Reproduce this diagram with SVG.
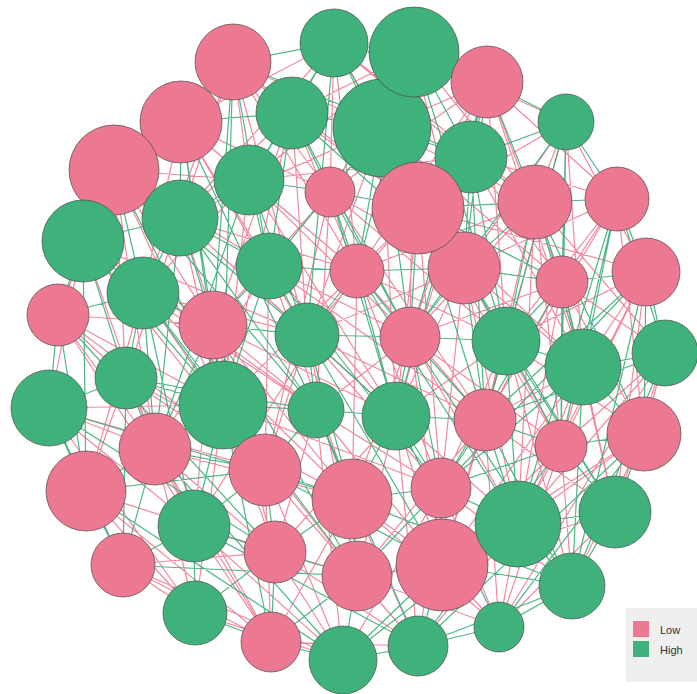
<svg xmlns="http://www.w3.org/2000/svg" width="697" height="694" viewBox="0 0 697 694">
<style>
.e{fill:none;stroke-width:1.2;stroke-opacity:0.9}
.ep{stroke:#EE7C96}
.eg{stroke:#3AAE79}
.n circle{stroke:#4a4a4a;stroke-width:0.7}
.p{fill:#EC7892}
.g{fill:#3FB17B}
.lt{font-family:"Liberation Sans",Arial,sans-serif;font-size:11px;fill:#333}
</style>
<rect width="697" height="694" fill="#fff"/>
<g id="edges">
<path class="e ep" d="M233 62L292 113M233 62L382 128M233 62L249 180M233 62L330 192M233 62L180 218M233 62L418 208M233 62L307 335M334 43L181 122M334 43L471 157M334 43L330 192M334 43L357 271M334 43L535 202M414 52L292 113M414 52L249 180M414 52L464 268M414 52L566 122M414 52L535 202M487 82L382 128M487 82L418 208M487 82L617 199M487 82L562 282M487 82L330 192M487 82L506 341M566 122L535 202M566 122L464 268M566 122L646 272M566 122L418 208M566 122L583 367M181 122L249 180M181 122L330 192M181 122L83 241M181 122L269 266M181 122L143 293M292 113L418 208M292 113L180 218M292 113L357 271M292 113L213 325M382 128L464 268M382 128L180 218M382 128L307 335M382 128L535 202M471 157L357 271M471 157L562 282M471 157L410 337M471 157L617 199M471 157L249 180M114 170L269 266M114 170L58 315M114 170L213 325M114 170L249 180M114 170L126 378M249 180L357 271M249 180L143 293M249 180L410 337M249 180L223 405M330 192L464 268M330 192L213 325M330 192L506 341M330 192L316 410M418 208L646 272M418 208L307 335M418 208L583 367M418 208L396 416M535 202L410 337M535 202L665 353M535 202L357 271M535 202L485 420M617 199L562 282M617 199L506 341M617 199L644 434M617 199L464 268M83 241L213 325M83 241L307 335M83 241L49 408M83 241L155 449M180 218L307 335M180 218L223 405M180 218L126 378M180 218L357 271M269 266L410 337M269 266L396 416M269 266L155 449M269 266L265 470M357 271L506 341M357 271L223 405M357 271L485 420M357 271L352 499M464 268L583 367M464 268L396 416M464 268L561 446M464 268L307 335M562 282L665 353M562 282L485 420M562 282L518 524M562 282L410 337M646 272L583 367M646 272L561 446M646 272L615 512M646 272L506 341M58 315L126 378M58 315L223 405M58 315L155 449M58 315L213 325M143 293L316 410M143 293L265 470M143 293L307 335M143 293L86 491M213 325L396 416M213 325L316 410M213 325L352 499M213 325L194 526M307 335L485 420M307 335L441 488M307 335L265 470M410 337L561 446M410 337L352 499M410 337L518 524M410 337L316 410M506 341L644 434M506 341L441 488M506 341L442 565M506 341L396 416M583 367L561 446M583 367L518 524M583 367L615 512M583 367L485 420M665 353L561 446M665 353L615 512M665 353L644 434M665 353L518 524M49 408L155 449M49 408L265 470M49 408L194 526M49 408L223 405M126 378L265 470M126 378L352 499M126 378L194 526M126 378L86 491M223 405L441 488M223 405L275 552M223 405L357 576M316 410L441 488M316 410L275 552M316 410L442 565M155 449L352 499M155 449L194 526M155 449L275 552M155 449L195 613M396 416L518 524M396 416L357 576M396 416L442 565M396 416L275 552M485 420L615 512M485 420L442 565M485 420L357 576M561 446L518 524M561 446L572 586M561 446L442 565M644 434L518 524M644 434L572 586M644 434L442 565M86 491L194 526M86 491L275 552M86 491L195 613M265 470L357 576M265 470L271 642M265 470L343 660M352 499L442 565M352 499L271 642M352 499L418 646M441 488L572 586M441 488L343 660M441 488L418 646M518 524L418 646M518 524L499 627M615 512L442 565M615 512L499 627M194 526L271 642M194 526L357 576M275 552L343 660M275 552L418 646M123 565L195 613M123 565L271 642M123 565L275 552M357 576L418 646M357 576L499 627M442 565L499 627M195 613L343 660M271 642L418 646M233 62L357 271M233 62L143 293M334 43L180 218M334 43L464 268M414 52L410 337M487 82L357 271M487 82L583 367M566 122L485 420M181 122L307 335M181 122L357 271M292 113L307 335M292 113L223 405M382 128L562 282M382 128L396 416M471 157L583 367M471 157L396 416M114 170L223 405M114 170L155 449M249 180L396 416M330 192L485 420M330 192L265 470M418 208L561 446M418 208L441 488M535 202L561 446M535 202L518 524M617 199L485 420M83 241L265 470M83 241L316 410M180 218L265 470M180 218L396 416M269 266L352 499M269 266L485 420M357 271L441 488M357 271L194 526M464 268L441 488M464 268L518 524M562 282L644 434M562 282L615 512M646 272L518 524M58 315L265 470M58 315L194 526M143 293L352 499M213 325L275 552M307 335L357 576M410 337L442 565M506 341L572 586M583 367L442 565M665 353L499 627M49 408L195 613M126 378L271 642M223 405L195 613M316 410L343 660M155 449L271 642M396 416L418 646M485 420L499 627M561 446L499 627M86 491L271 642M265 470L418 646M352 499L499 627M441 488L499 627M194 526L343 660M123 565L343 660"/>
<path class="e eg" d="M233 62L334 43M233 62L181 122M233 62L114 170M233 62L269 266M233 62L471 157M334 43L414 52M334 43L292 113M334 43L382 128M334 43L249 180M334 43L418 208M334 43L487 82M414 52L487 82M414 52L471 157M414 52L330 192M414 52L418 208M414 52L357 271M487 82L566 122M487 82L471 157M487 82L535 202M487 82L464 268M566 122L471 157M566 122L617 199M566 122L562 282M566 122L506 341M566 122L410 337M181 122L292 113M181 122L114 170M181 122L180 218M181 122L213 325M292 113L382 128M292 113L249 180M292 113L330 192M292 113L269 266M292 113L464 268M382 128L471 157M382 128L330 192M382 128L418 208M382 128L357 271M382 128L410 337M471 157L418 208M471 157L535 202M471 157L464 268M471 157L506 341M114 170L83 241M114 170L180 218M114 170L143 293M114 170L307 335M249 180L330 192M249 180L180 218M249 180L269 266M249 180L307 335M330 192L418 208M330 192L269 266M330 192L357 271M330 192L410 337M418 208L535 202M418 208L464 268M418 208L410 337M418 208L562 282M535 202L617 199M535 202L464 268M535 202L562 282M535 202L506 341M535 202L583 367M617 199L646 272M617 199L583 367M617 199L665 353M83 241L180 218M83 241L58 315M83 241L143 293M83 241L126 378M83 241L223 405M180 218L269 266M180 218L143 293M180 218L213 325M180 218L316 410M269 266L357 271M269 266L213 325M269 266L307 335M269 266L223 405M357 271L464 268M357 271L307 335M357 271L410 337M357 271L396 416M464 268L562 282M464 268L410 337M464 268L506 341M464 268L485 420M562 282L646 272M562 282L506 341M562 282L583 367M562 282L561 446M646 272L665 353M646 272L644 434M646 272L485 420M58 315L143 293M58 315L49 408M58 315L86 491M143 293L213 325M143 293L126 378M143 293L223 405M143 293L155 449M213 325L307 335M213 325L223 405M213 325L155 449M213 325L265 470M307 335L410 337M307 335L316 410M307 335L396 416M307 335L352 499M410 337L506 341M410 337L396 416M410 337L485 420M410 337L441 488M506 341L583 367M506 341L485 420M506 341L561 446M506 341L518 524M583 367L665 353M583 367L644 434M583 367L441 488M665 353L572 586M665 353L485 420M49 408L126 378M49 408L86 491M49 408L123 565M126 378L223 405M126 378L155 449M126 378L316 410M223 405L316 410M223 405L155 449M223 405L265 470M223 405L194 526M316 410L396 416M316 410L265 470M316 410L352 499M155 449L86 491M155 449L265 470M155 449L123 565M396 416L485 420M396 416L352 499M396 416L441 488M485 420L561 446M485 420L441 488M485 420L518 524M561 446L644 434M561 446L615 512M561 446L441 488M644 434L615 512M644 434L499 627M86 491L123 565M86 491L265 470M265 470L352 499M265 470L194 526M265 470L275 552M352 499L441 488M352 499L275 552M352 499L357 576M441 488L518 524M441 488L442 565M441 488L357 576M518 524L615 512M518 524L572 586M615 512L572 586M194 526L275 552M194 526L123 565M194 526L195 613M275 552L357 576M275 552L195 613M275 552L271 642M357 576L442 565M357 576L271 642M357 576L343 660M442 565L572 586M442 565L418 646M442 565L343 660M572 586L499 627M572 586L418 646M195 613L271 642M271 642L343 660M343 660L418 646M418 646L499 627M233 62L223 405M487 82L396 416M114 170L265 470M617 199L518 524M49 408L352 499M181 122L316 410M143 293L357 576M646 272L572 586M233 62L213 325M334 43L307 335M414 52L506 341M487 82L410 337M566 122L561 446M181 122L223 405M292 113L410 337M382 128L506 341M471 157L485 420M114 170L316 410M249 180L155 449M330 192L396 416M418 208L485 420M535 202L644 434M617 199L561 446M83 241L86 491M180 218L155 449M269 266L441 488M357 271L518 524M464 268L615 512M562 282L441 488M646 272L441 488M58 315L275 552M143 293L194 526M213 325L357 576M307 335L442 565M410 337L572 586M506 341L615 512M583 367L572 586M49 408L275 552M126 378L123 565M223 405L271 642M316 410L418 646M155 449L343 660M396 416L499 627M485 420L572 586M561 446L418 646M644 434L418 646M86 491L343 660M265 470L442 565M352 499L572 586M518 524L343 660M194 526L418 646M123 565L357 576"/>
</g>
<g id="nodes" class="n">
<g id="n8"><circle class="g" cx="382" cy="128" r="49"/></g>
<g id="n1"><circle class="p" cx="233" cy="62" r="38"/></g>
<g id="n2"><circle class="g" cx="334" cy="43" r="34"/></g>
<g id="n3"><circle class="g" cx="414" cy="52" r="45"/></g>
<g id="n4"><circle class="p" cx="487" cy="82" r="36"/></g>
<g id="n5"><circle class="g" cx="566" cy="122" r="28"/></g>
<g id="n6"><circle class="p" cx="181" cy="122" r="41"/></g>
<g id="n7"><circle class="g" cx="292" cy="113" r="36"/></g>
<g id="n9"><circle class="g" cx="471" cy="157" r="36"/></g>
<g id="n10"><circle class="p" cx="114" cy="170" r="45"/></g>
<g id="n11"><circle class="g" cx="249" cy="180" r="35"/></g>
<g id="n12"><circle class="p" cx="330" cy="192" r="25"/></g>
<g id="n14"><circle class="p" cx="535" cy="202" r="37"/></g>
<g id="n15"><circle class="p" cx="617" cy="199" r="32"/></g>
<g id="n16"><circle class="g" cx="83" cy="241" r="41"/></g>
<g id="n17"><circle class="g" cx="180" cy="218" r="38"/></g>
<g id="n18"><circle class="g" cx="269" cy="266" r="33"/></g>
<g id="n19"><circle class="p" cx="357" cy="271" r="27"/></g>
<g id="n20"><circle class="p" cx="464" cy="268" r="36"/></g>
<g id="n13"><circle class="p" cx="418" cy="208" r="46"/></g>
<g id="n21"><circle class="p" cx="562" cy="282" r="26"/></g>
<g id="n22"><circle class="p" cx="646" cy="272" r="34"/></g>
<g id="n23"><circle class="p" cx="58" cy="315" r="31"/></g>
<g id="n24"><circle class="g" cx="143" cy="293" r="36"/></g>
<g id="n25"><circle class="p" cx="213" cy="325" r="34"/></g>
<g id="n26"><circle class="g" cx="307" cy="335" r="32"/></g>
<g id="n27"><circle class="p" cx="410" cy="337" r="30"/></g>
<g id="n28"><circle class="g" cx="506" cy="341" r="34"/></g>
<g id="n29"><circle class="g" cx="583" cy="367" r="38"/></g>
<g id="n30"><circle class="g" cx="665" cy="353" r="33"/></g>
<g id="n31"><circle class="g" cx="49" cy="408" r="38"/></g>
<g id="n32"><circle class="g" cx="126" cy="378" r="31"/></g>
<g id="n33"><circle class="g" cx="223" cy="405" r="44"/></g>
<g id="n34"><circle class="g" cx="316" cy="410" r="28"/></g>
<g id="n35"><circle class="p" cx="155" cy="449" r="36"/></g>
<g id="n36"><circle class="g" cx="396" cy="416" r="34"/></g>
<g id="n37"><circle class="p" cx="485" cy="420" r="31"/></g>
<g id="n38"><circle class="p" cx="561" cy="446" r="26"/></g>
<g id="n39"><circle class="p" cx="644" cy="434" r="37"/></g>
<g id="n40"><circle class="p" cx="86" cy="491" r="40"/></g>
<g id="n41"><circle class="p" cx="265" cy="470" r="36"/></g>
<g id="n42"><circle class="p" cx="352" cy="499" r="40"/></g>
<g id="n43"><circle class="p" cx="441" cy="488" r="30"/></g>
<g id="n50"><circle class="p" cx="442" cy="565" r="46"/></g>
<g id="n44"><circle class="g" cx="518" cy="524" r="43"/></g>
<g id="n45"><circle class="g" cx="615" cy="512" r="36"/></g>
<g id="n46"><circle class="g" cx="194" cy="526" r="36"/></g>
<g id="n47"><circle class="p" cx="275" cy="552" r="31"/></g>
<g id="n48"><circle class="p" cx="123" cy="565" r="32"/></g>
<g id="n49"><circle class="p" cx="357" cy="576" r="35"/></g>
<g id="n51"><circle class="g" cx="572" cy="586" r="33"/></g>
<g id="n52"><circle class="g" cx="195" cy="613" r="32"/></g>
<g id="n53"><circle class="p" cx="271" cy="642" r="30"/></g>
<g id="n54"><circle class="g" cx="343" cy="660" r="34"/></g>
<g id="n55"><circle class="g" cx="418" cy="646" r="30"/></g>
<g id="n56"><circle class="g" cx="499" cy="627" r="25"/></g>
</g>
<g id="legend">
<rect x="626" y="608" width="71" height="74" fill="#efefef"/>
<rect x="633" y="621" width="16" height="16" class="p"/>
<rect x="633" y="641" width="16" height="16" class="g"/>
<text x="660" y="634" class="lt">Low</text>
<text x="660" y="654" class="lt">High</text>
</g>
</svg>
